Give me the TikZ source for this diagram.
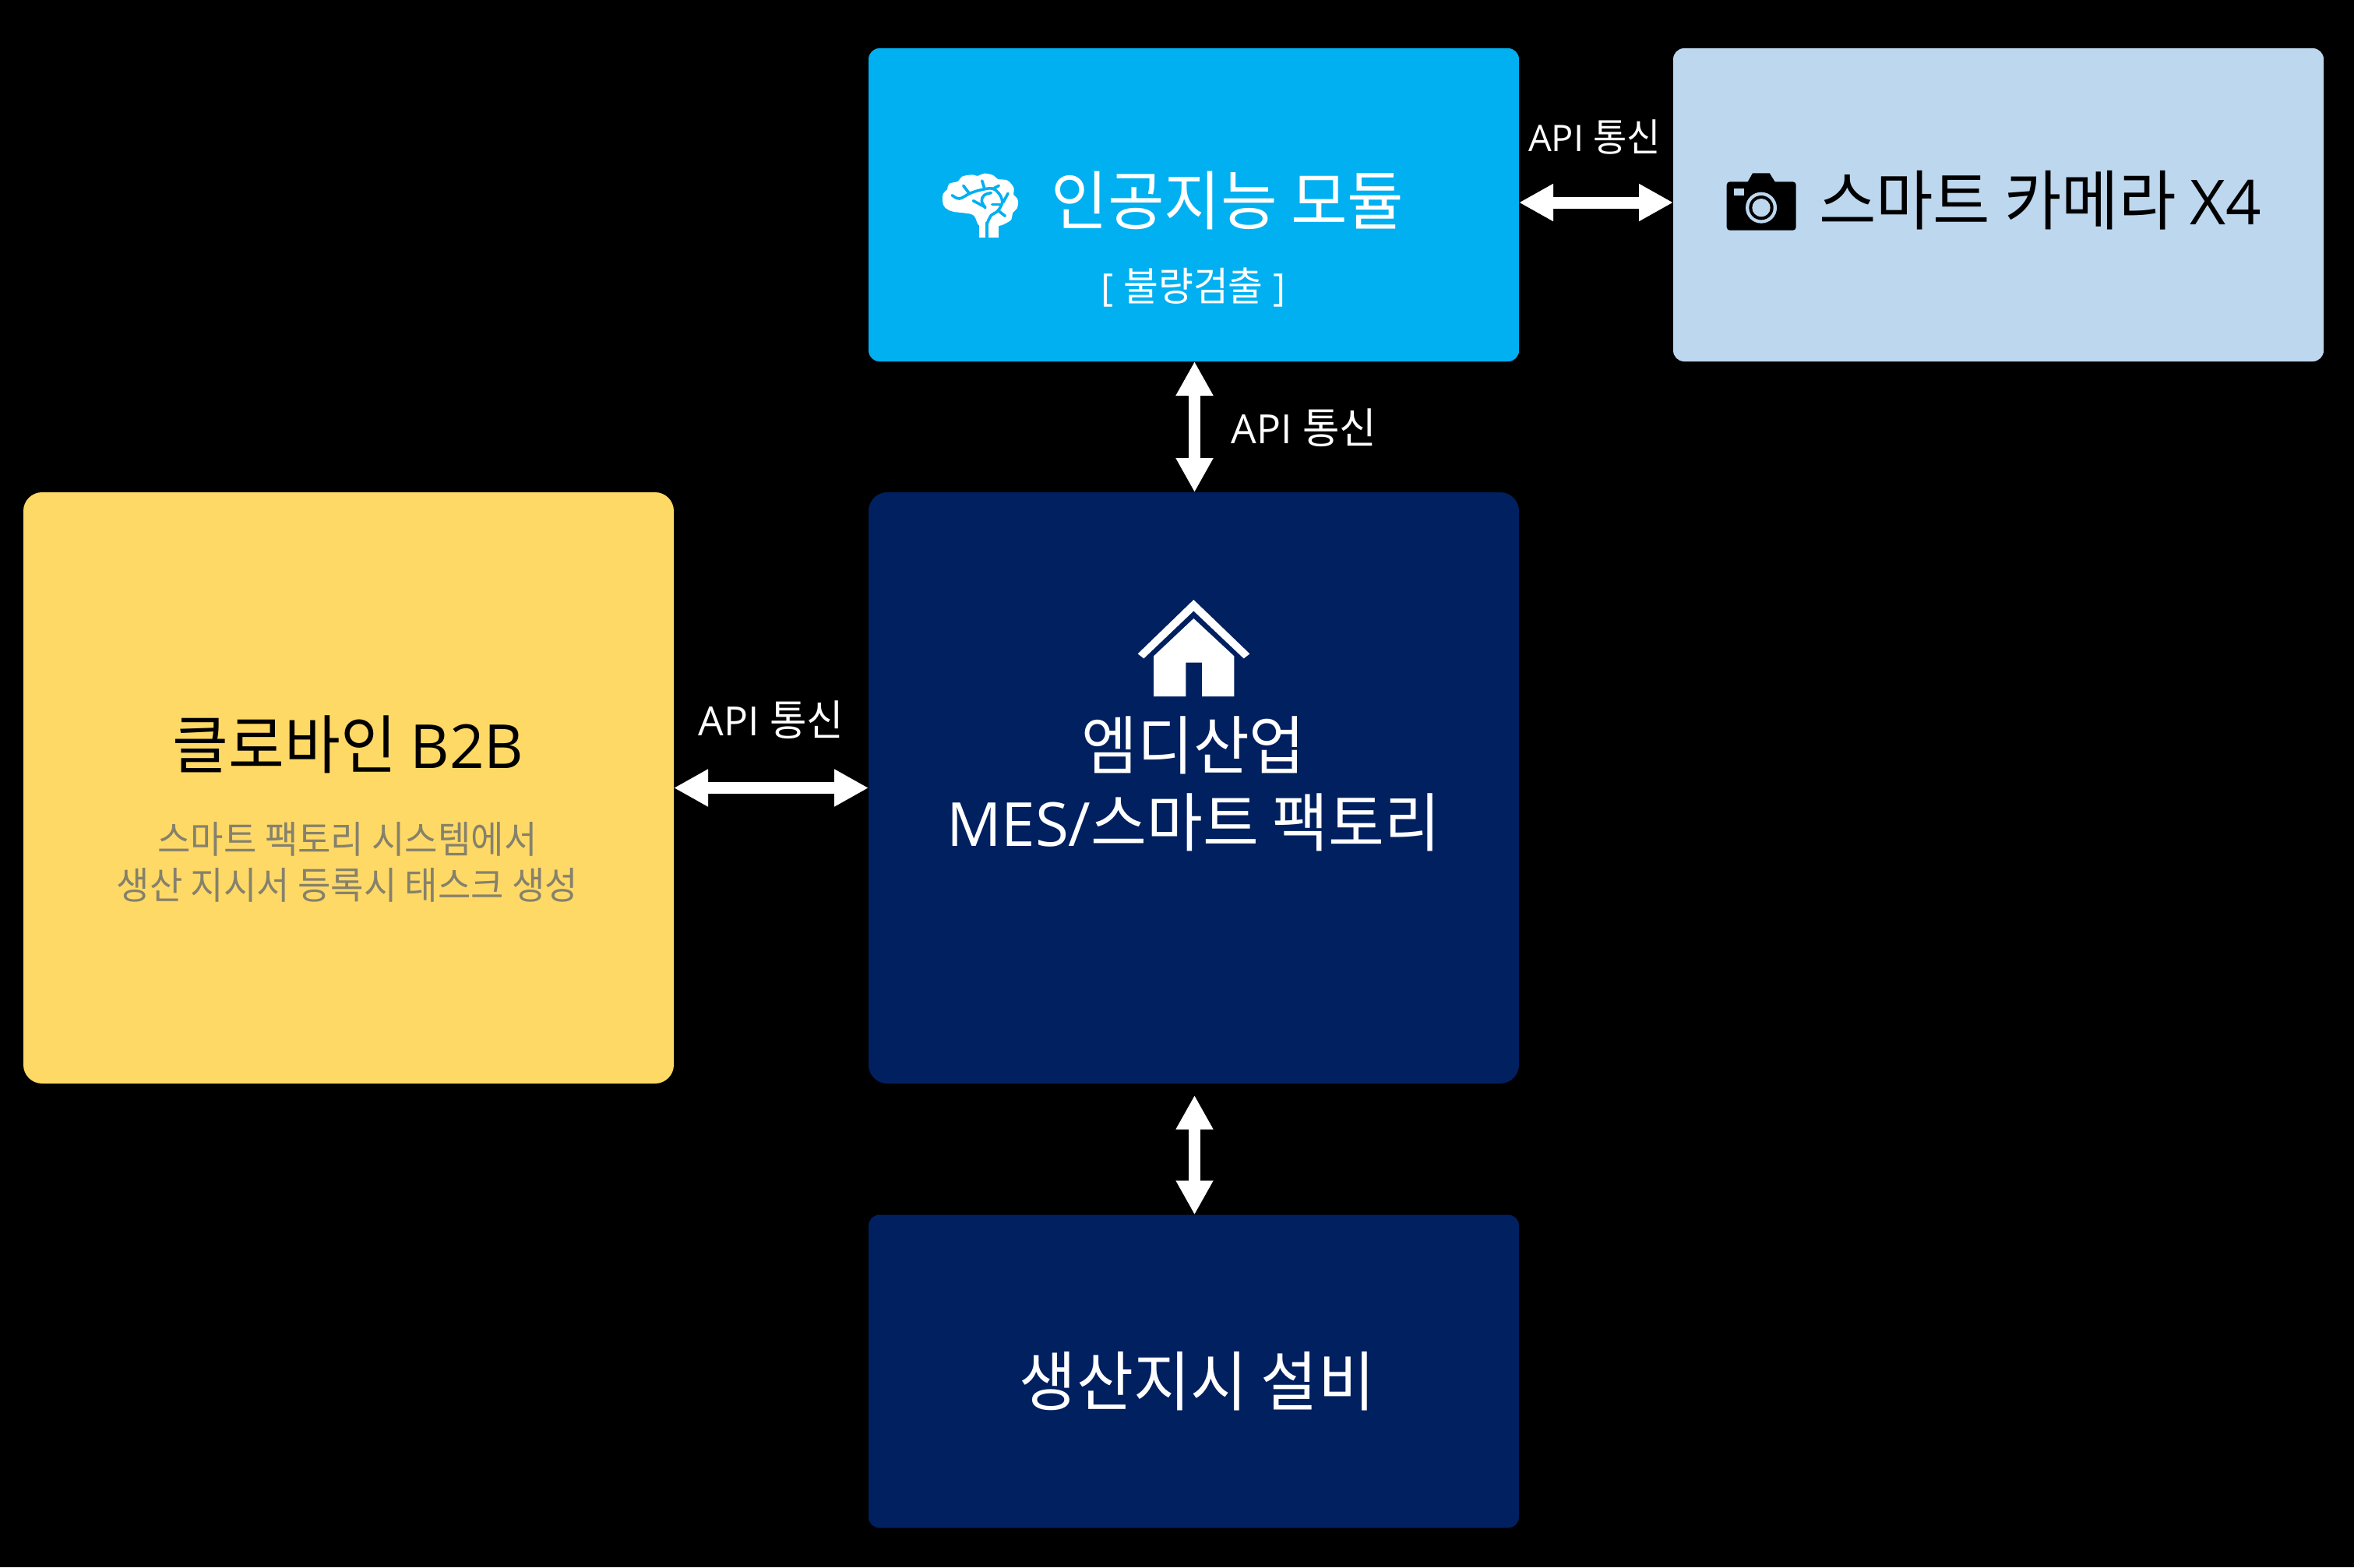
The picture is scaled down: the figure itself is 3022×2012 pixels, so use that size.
\documentclass[tikz,border=0pt]{standalone}
\usepackage{fontspec}
\setmainfont{Open Sans}
\newfontfamily\ko[FakeStretch=0.952]{Noto Sans CJK KR}
\newfontfamily\lat[Scale=0.952]{Open Sans}
\usetikzlibrary{arrows.meta}
\definecolor{aiblue}{HTML}{00B0F0}
\definecolor{camblue}{HTML}{BDD7EE}
\definecolor{amber}{HTML}{FFD966}
\definecolor{navy}{HTML}{002060}
\definecolor{subgray}{HTML}{85816C}
\tikzset{
  panel/.style={rectangle,minimum width=417.5pt,outer sep=0pt,inner sep=0pt,draw=none},
  smallpanel/.style={panel,minimum height=201pt,rounded corners=7pt},
  bigpanel/.style={panel,minimum height=379.5pt,rounded corners=12pt},
  label/.style={inner sep=0pt,outer sep=0pt,align=center},
  link/.style={draw=white,line width=7.5pt,{Triangle[length=22pt,width=22.5pt]}-{Triangle[length=22pt,width=22.5pt]}},
  fs/.style={font=\fontsize{#1}{50}\selectfont},
}
\begin{document}
\begin{tikzpicture}[x=0.5pt,y=-0.5pt]
\path[fill=black,use as bounding box] (0,0) rectangle (3022,2012);
% panels
\node[smallpanel,fill=aiblue] (ai) at (1532.5,263) {};
\node[smallpanel,fill=camblue] (cam) at (2565.5,263) {};
\node[bigpanel,fill=amber] (b2b) at (447.5,1011.5) {};
\node[bigpanel,fill=navy] (mes) at (1532.5,1011.5) {};
\node[smallpanel,fill=navy] (equip) at (1532.5,1760.5) {};
% connectors
\draw[link] ([yshift=1.5pt]ai.east) -- ([yshift=1.5pt]cam.west);
\draw[link] ([xshift=0.5pt]ai.south) -- ([xshift=0.5pt]mes.north);
\draw[link] (b2b.east) -- (mes.west);
\draw[link,shorten <=7.5pt] ([xshift=0.5pt]mes.south) -- ([xshift=0.5pt]equip.north);
% texts
\node[label,text=white,fs=41.4] (aititle) at (1576,257) {\ko 인공지능 모듈};
\node[label,text=white,fs=25.6] (aisub) at (1532,369) {\lat [ \ko 불량검출\lat{} ]};
\node[label,text=black,fs=41.9] (camtitle) at (2619,257) {\ko 스마트 카메라 \lat X4};
\node[label,text=black,fs=41] (b2btitle) at (447,956) {\ko 클로바인 \lat B2B};
\node[label,text=subgray,fs=24.2] (b2bsub1) at (446,1077) {\ko 스마트 팩토리 시스템에서};
\node[label,text=subgray,fs=24.2] (b2bsub2) at (446,1136) {\ko 생산 지시서 등록시 태스크 생성};
\node[label,text=white,fs=41] (mes1) at (1532,957) {\ko 엠디산업};
\node[label,text=white,fs=41] (mes2) at (1532,1056) {\lat MES/\ko 스마트 팩토리};
\node[label,text=white,fs=41.7] (equiptitle) at (1537,1773) {\ko 생산지시 설비};
\node[label,text=white,fs=24.7] (api1) at (2047,176) {\lat API \ko 통신};
\node[label,text=white,fs=27.1] (api2) at (1674,549) {\lat API \ko 통신};
\node[label,text=white,fs=27.1] (api3) at (990,924) {\lat API \ko 통신};
% house icon
\begin{scope}[shift={(1350,740)},x=0.16667pt,y=-0.16667pt]
\fill[white] (332,298) -- (547,90) -- (763,298) -- (740,316) -- (547,133) -- (355,316) -- cycle;
\fill[white] (393,307) -- (547,162) -- (703,307) -- (703,462) -- (579,462) -- (579,332) -- (517,332) -- (517,462) -- (393,462) -- cycle;
\end{scope}
% brain icon
\begin{scope}[shift={(1195,210)},x=0.16667pt,y=-0.16667pt]
\fill[white] plot[smooth cycle,tension=0.65] coordinates {(45,145)(48,115)(63,100)(70,78)(105,68)(120,50)(160,43)(180,48)(205,38)(240,45)(258,60)(295,65)(320,95)(318,118)(335,140)(332,172)(315,190)(310,215)(285,232)(262,240)(230,240)(187,240)(165,200)(125,190)(85,185)(55,170)};
\fill[white] (187,285) -- (187,225) -- (262,225) -- (262,285) -- cycle;
\begin{scope}[draw=aiblue,line width=1.8pt,line cap=round,line join=round]
\draw plot[smooth,tension=0.6] coordinates {(82,122)(110,135)(150,115)(190,102)(235,96)(262,115)(275,148)(258,182)(232,200)(218,228)};
\draw[line cap=butt] (216,225) -- (216,285);
\draw (125,85) -- (148,115);
\draw (197,66) -- (207,97);
\draw (262,85) -- (238,98);
\draw (297,115) -- (278,150);
\draw plot[smooth,tension=0.7] coordinates {(232,113)(205,122)(196,145)(210,170)};
\draw (163,143) -- (208,167);
\draw (236,157) -- (266,157);
\draw (258,180) -- (286,202);
\end{scope}
\end{scope}
% camera icon
\begin{scope}[shift={(2205,210)},x=0.16667pt,y=-0.16667pt]
\fill[black,rounded corners=2pt] (35,70) rectangle (302,257);
\fill[black] (115,72) -- (135,37) -- (200,37) -- (222,72) -- cycle;
\fill[camblue] (62,97) rectangle (103,122);
\fill[camblue] (168,170) circle[radius=60];
\fill[black] (168,170) circle[radius=47];
\fill[camblue] (168,170) circle[radius=35];
\end{scope}
\end{tikzpicture}
\end{document}
